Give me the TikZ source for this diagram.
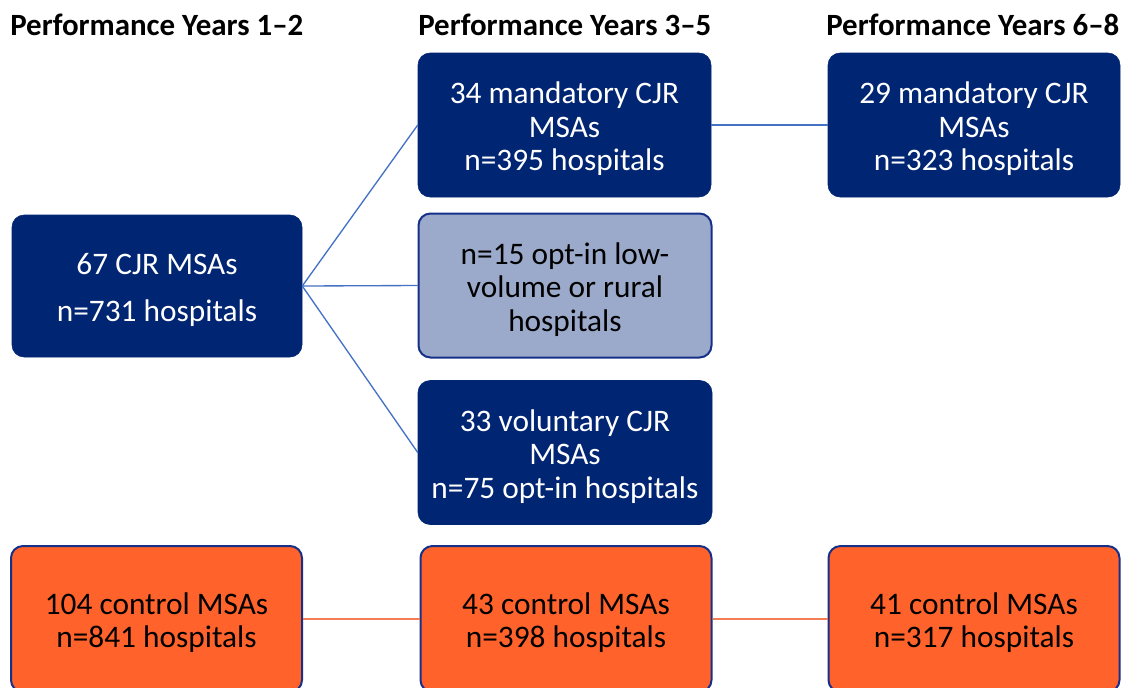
\documentclass[tikz,border=0pt]{standalone}
\usepackage{fontspec}
\setmainfont{Carlito}
\definecolor{navy}{RGB}{0,37,114}
\definecolor{navyline}{RGB}{22,48,138}
\definecolor{paleblue}{RGB}{155,170,203}
\definecolor{ctrlorange}{RGB}{255,98,43}
\definecolor{linkblue}{RGB}{68,114,196}
\definecolor{linkorange}{RGB}{245,125,85}
% taller first line, so the text block sits slightly lower in its box
\newcommand\firstline{\rule{0pt}{22pt}}
\begin{document}
\begin{tikzpicture}[x=0.75pt,y=-0.75pt,
  box/.style={rectangle, rounded corners=9pt, align=center,
    minimum width=292*0.75pt, minimum height=144*0.75pt, inner sep=2pt,
    font=\fontsize{23.5}{25.2}\selectfont},
  cjrbox/.style={box, fill=navy, draw=navy, text=white},
  optbox/.style={box, fill=paleblue, draw=navyline, line width=1.5pt, text=black},
  ctrlbox/.style={box, fill=ctrlorange, draw=navyline, line width=1.5pt, text=black,
    minimum width=291*0.75pt, minimum height=146*0.75pt},
  heading/.style={anchor=west, inner sep=0pt, font=\fontsize{23.2}{26}\selectfont\bfseries},
  bluelink/.style={draw=linkblue, line width=1pt},
  orangelink/.style={draw=linkorange, line width=1.3pt}]
\clip (0,0) rectangle (1123,687);
\fill[white] (0,0) rectangle (1123,687);

% column headings
\node[heading] (h1) at (10,25) {Performance Years 1–2};
\node[heading] (h2) at (418,25) {Performance Years 3–5};
\node[heading] (h3) at (826,25) {Performance Years 6–8};

% CJR boxes
\node[cjrbox, minimum width=290*0.75pt, minimum height=142*0.75pt] (a) at (157,286)
  {\firstline 67 CJR MSAs\\[10pt]n=731 hospitals};
\node[cjrbox, minimum width=293*0.75pt] (b) at (564.5,125)
  {\firstline 34 mandatory CJR\\MSAs\\n=395 hospitals};
\node[optbox, minimum width=293*0.75pt] (c) at (565,285.5)
  {\firstline n=15 opt-in low-\\volume or rural\\hospitals};
\node[cjrbox, minimum width=294*0.75pt] (d) at (565,452.5)
  {\firstline 33 voluntary CJR\\MSAs\\n=75 opt-in hospitals};
\node[cjrbox] (e) at (974,125)
  {\firstline 29 mandatory CJR\\MSAs\\n=323 hospitals};

% control boxes
\node[ctrlbox] (o1) at (156.5,619) {\firstline 104 control MSAs\\n=841 hospitals};
\node[ctrlbox] (o2) at (566,619) {\firstline 43 control MSAs\\n=398 hospitals};
\node[ctrlbox] (o3) at (974,619) {\firstline 41 control MSAs\\n=317 hospitals};

% connectors
\draw[bluelink] (a.east) -- (b.west);
\draw[bluelink] (a.east) -- (c.west);
\draw[bluelink] (a.east) -- (d.west);
\draw[bluelink] (b.east) -- (e.west);
\draw[orangelink] (o1.east) -- (o2.west);
\draw[orangelink] (o2.east) -- (o3.west);
\end{tikzpicture}
\end{document}
